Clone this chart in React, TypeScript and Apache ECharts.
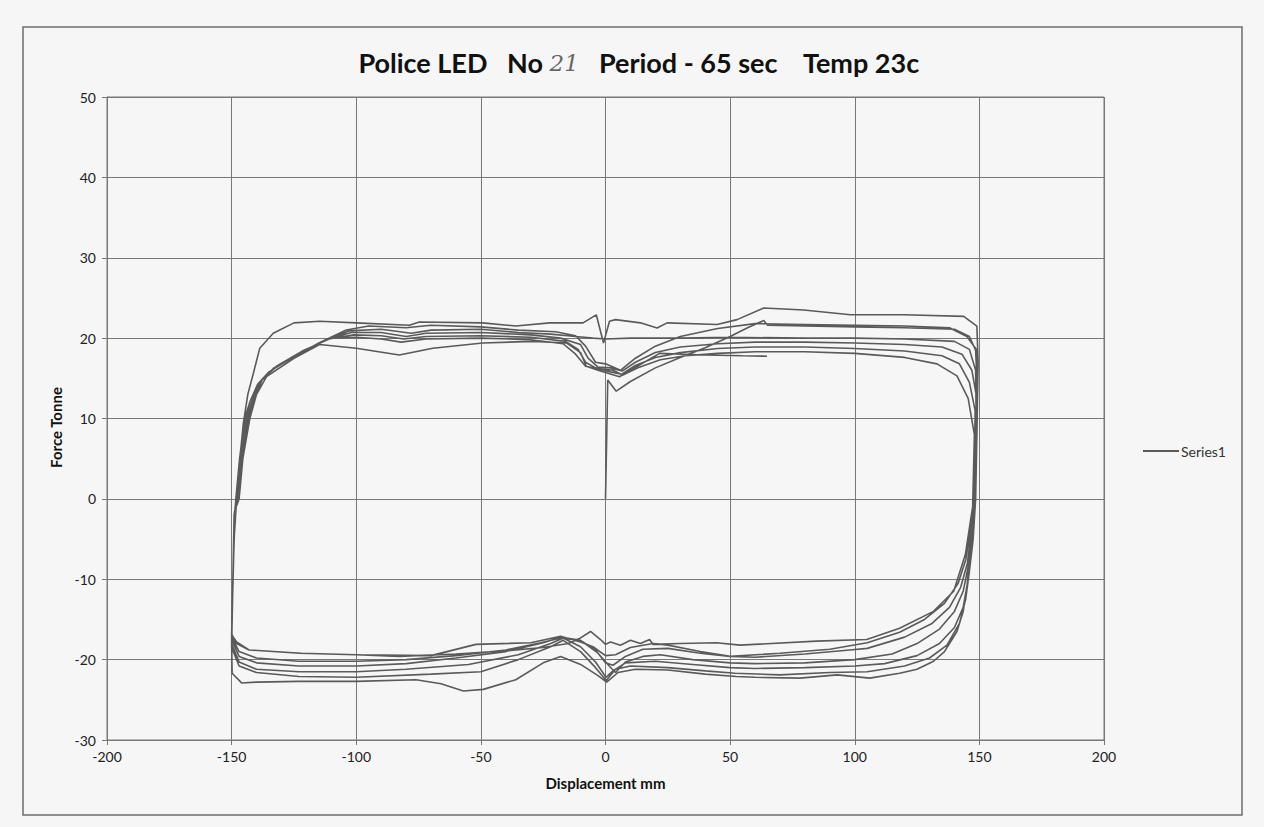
import React, { useEffect, useRef } from "react";
import * as echarts from "echarts";

// Axis definitions
const xTicks = { min: -200, max: 200, step: 50 };
const yTicks = { min: -30, max: 50, step: 10 };

// Data: [displacement mm, force tonne]
const start: number[][] = [
  [0, 0], [0.5, 8], [0.9, 14.8], [4.3, 13.4], [10, 14.6], [20, 16.3], [30, 17.6], [40, 18.8],
  [50, 20.2], [57, 21.3], [63.5, 22.2], [65, 21.6], [80, 21.5], [100, 21.4], [120, 21.3],
  [140, 21.1], [146, 20.2], [148.5, 18.5],
];

const cycle1: number[][] = [
  [149, 15], [148.6, 5], [148, -2], [146.5, -6], [145, -11], [143.5, -14], [141, -16.5], [136, -19],
  [131.6, -20.2], [125, -21.2], [118, -21.7], [106, -22.3], [93, -21.9], [78, -22.3], [60, -22.2],
  [52.5, -22.1], [40, -21.8], [25, -21.3], [12, -21.2], [5, -21.6], [0.5, -22.8], [-3, -22],
  [-10, -20.6], [-18, -19.6], [-25, -20.4], [-36, -22.5], [-49, -23.7], [-57, -23.9], [-66, -23],
  [-76, -22.5], [-100, -22.7], [-123, -22.7], [-140, -22.8], [-146, -22.9], [-149.8, -21.7],
  [-150, -18], [-149.5, -10], [-149, -2], [-148, 0], [-147, 4], [-145.3, 9.4], [-143.5, 13],
  [-141.3, 15.6], [-138.7, 18.75], [-133.3, 20.6], [-125, 21.9], [-114.7, 22.1], [-100, 21.9],
  [-78.7, 21.6], [-74.7, 22.0], [-49.3, 21.9], [-36, 21.5], [-22.4, 21.9], [-9, 21.9], [-3.7, 22.9],
  [-0.8, 19.4], [1.6, 22.1], [4, 22.3], [14, 21.9], [20.7, 21.25], [24.7, 21.9], [44.8, 21.7],
  [52.8, 22.3], [63.5, 23.75], [79.5, 23.5], [98.3, 22.9], [119.7, 22.9], [143.7, 22.7], [149, 21.5],
];

const cycle2: number[][] = [
  [149.5, 17], [149, 8], [148.5, 0], [147.5, -5], [146, -9], [144.5, -12.5], [142, -15.5], [137, -18.2],
  [130, -19.8], [120, -20.8], [105, -21.5], [90, -21.6], [70, -21.9], [52, -21.7], [40, -21.4],
  [25, -21], [10, -20.8], [4, -21.2], [0.3, -22.6], [-4, -21], [-10, -19], [-17, -17.6], [-22, -18.4],
  [-35, -20], [-50, -21.5], [-70, -21.8], [-100, -22.2], [-123, -22.1], [-140, -21.6], [-147, -20.8],
  [-150, -18.5], [-149.6, -12], [-149, -3], [-148.3, 0], [-146.8, 5], [-144.8, 10], [-142.5, 12.2],
  [-139.5, 14.3], [-135, 15.8], [-125, 17.7], [-115, 19.4], [-104, 21], [-95, 21.5], [-80, 21.3],
  [-70, 21.6], [-50, 21.4], [-35, 21.0], [-20, 20.8], [-12, 20.3], [-8, 19], [-4, 17], [0, 16.8],
  [6, 16], [12, 17.5], [20, 19], [30, 20.2], [45, 21.2], [60, 21.8], [80, 21.7], [100, 21.6],
  [120, 21.5], [138, 21.3], [145, 20.2], [149, 18.5],
];

const cycle3: number[][] = [
  [149.3, 14], [148.8, 5], [148, -1], [147, -6], [145.5, -10], [143.5, -13.5], [140, -16], [134, -18],
  [125, -19.5], [112, -20.5], [100, -20.8], [80, -21], [60, -21.1], [50, -21.0], [35, -20.6],
  [20, -20.2], [8, -20.4], [3, -21.4], [0.2, -22.2], [-4, -20.3], [-10, -18.4], [-17, -17.3],
  [-22, -18], [-35, -19.4], [-55, -20.6], [-80, -21.2], [-100, -21.5], [-123, -21.5], [-140, -21.2],
  [-147, -20.3], [-150, -18], [-149.5, -10], [-148.8, -2], [-148, 0], [-146.5, 5], [-144.2, 10],
  [-142, 12], [-139, 14.4], [-134, 16], [-124, 17.9], [-113, 19.6], [-103, 20.9], [-90, 21.1],
  [-78, 20.6], [-70, 21.0], [-50, 21.1], [-35, 20.7], [-22, 20.5], [-12, 20.2], [-5, 20.0], [0, 19.9],
  [10, 20.0], [30, 20.0], [50, 20.1], [80, 20.0], [100, 20.0], [120, 19.9], [140, 19.6], [146, 18.6],
  [148.5, 16],
];

const cycle4: number[][] = [
  [148.8, 8], [148.2, 0], [147.2, -4], [145.8, -8], [143.5, -11.5], [140, -14], [134, -16.2], [125, -18],
  [115, -19.3], [100, -20], [80, -20.4], [60, -20.5], [50, -20.4], [35, -20], [22, -19.4], [15, -19.6],
  [8, -20.3], [4, -21.6], [1.5, -20.8], [-3, -19.2], [-10, -17.6], [-18, -17.2], [-25, -17.9],
  [-40, -19], [-60, -19.8], [-80, -20.5], [-100, -20.8], [-123, -20.8], [-140, -20.4], [-147, -19.6],
  [-150, -17.5], [-149.3, -8], [-148.6, -1], [-147.7, 0], [-146.2, 5], [-143.8, 10], [-141.5, 12.3],
  [-138.5, 14.6], [-133, 16.3], [-123, 18.1], [-112, 19.8], [-102, 20.7], [-90, 20.7], [-80, 20.2],
  [-72, 20.6], [-50, 20.7], [-30, 20.4], [-18, 20], [-10, 19.2], [-7, 17.5], [-3, 16.4], [2, 16.3],
  [6.7, 15.9], [12, 17], [20, 18.2], [30, 18.9], [45, 19.3], [60, 19.5], [80, 19.5], [100, 19.4],
  [120, 19.2], [135, 18.9], [143, 18], [147, 16], [148.7, 13],
];

const cycle5: number[][] = [
  [148.5, 5], [147.8, 0], [146.8, -4], [145.2, -8], [142.5, -11], [138, -13.5], [131, -15.5],
  [120, -17.2], [105, -18.6], [98, -18.8], [80, -19.3], [60, -19.7], [50, -19.6], [38, -19.2],
  [25, -18.6], [15, -18.7], [8, -19.6], [3, -20.7], [0, -20.4], [-4, -18.8], [-10, -17.6], [-18, -17.3],
  [-26, -17.9], [-40, -18.8], [-60, -19.5], [-80, -20.0], [-100, -20.2], [-123, -20.2], [-140, -19.8],
  [-147, -19], [-150, -17.2], [-149.2, -7], [-148.5, -1], [-147.5, 0], [-146, 5], [-143.4, 10],
  [-141, 12.5], [-138, 14.8], [-132, 16.5], [-122, 18.3], [-111, 19.9], [-101, 20.4], [-90, 20.3],
  [-81, 19.9], [-72, 20.2], [-50, 20.3], [-30, 20.1], [-16, 19.6], [-11, 18.6], [-8, 17], [-4, 16.3],
  [2, 15.8], [6.5, 15.5], [12, 16.6], [20, 17.6], [30, 18.2], [45, 18.7], [60, 18.9], [80, 18.9],
  [100, 18.7], [120, 18.4], [135, 17.8], [142, 16.8], [146, 14.5], [148.3, 11],
];

const cycle6: number[][] = [
  [148, 3], [147.3, -1], [146.3, -4], [144.6, -7.5], [141.5, -10.5], [136, -13], [128, -15],
  [118, -16.6], [105, -17.9], [90, -18.7], [70, -19.2], [50, -19.6], [38, -19], [25, -18.2], [19, -18],
  [10, -18.5], [4, -19.4], [0, -19.5], [-5, -18.4], [-10, -17.8], [-18, -17.1], [-30, -17.9],
  [-52, -18.1], [-70, -19.5], [-100, -19.4], [-122, -19.2], [-143, -18.8], [-148, -17.8],
  [-150, -16.9], [-149.2, -6], [-148.4, -1], [-147.3, 0], [-145.8, 5], [-143, 10], [-140.5, 12.7],
  [-137.5, 15], [-131, 16.7], [-121, 18.5], [-110, 20], [-100, 20.1], [-90, 19.9], [-82, 19.5],
  [-72, 19.9], [-50, 20.0], [-30, 19.8], [-17, 19.3], [-12, 18], [-8, 16.5], [-3, 16.2], [3, 16],
  [7, 15.4], [13, 16.3], [22, 17.3], [32, 17.8], [45, 18.1], [60, 18.3], [80, 18.3], [100, 18.1],
  [120, 17.6], [133, 16.8], [141, 15.3], [145.5, 12.5], [148, 8],
];

const cycle7: number[][] = [
  [147.3, -1], [146.4, -2.8], [144.4, -6.9], [139.7, -11.5], [131.6, -14], [118, -16.1],
  [104.8, -17.5], [84.7, -17.7], [54, -18.2], [44.5, -17.9], [30, -18], [19, -18.1], [17.7, -17.5],
  [14, -18], [10, -17.6], [6, -18.2], [2, -17.8], [0, -18.1], [-2, -17.5], [-6, -16.5], [-10, -17.3],
  [-15, -18], [-25, -18.5], [-40, -18.9], [-60, -19.3], [-82.7, -19.6], [-100, -19.4],
  [-122.7, -19.2], [-143, -18.8], [-148, -18], [-150, -16.8], [-149, -5], [-148.2, -1], [-147, 0],
  [-145.5, 5], [-142.7, 10], [-140, 13], [-136, 15.2], [-125, 17.5], [-114.7, 19.2], [-100, 18.75],
  [-82.7, 17.9], [-69.3, 18.75], [-49.3, 19.4], [-29, 19.6], [-15.7, 19.4], [-10, 18.2], [-7.7, 16.5],
  [-3, 16], [5.6, 15.2], [10, 16], [21.7, 18.1], [40, 17.9], [55, 17.8], [64.8, 17.75],
];

const seriesName = "Series1";
const titleParts = { before: "Police LED   No ", handwritten: "21", after: "   Period - 65 sec    Temp 23c" };
const xAxisName = "Displacement mm";
const yAxisName = "Force Tonne";

export default function App() {
  const ref = useRef<HTMLDivElement>(null);
  useEffect(() => {
    document.body.style.margin = "0";
    if (!ref.current) return;
    const chart = echarts.init(ref.current, undefined, { renderer: "svg" });
    const data = [...start, ...cycle1, ...cycle2, ...cycle3, ...cycle4, ...cycle5, ...cycle6, ...cycle7];
    const font = "Lato, 'Open Sans', sans-serif";
    chart.setOption({
      animation: false,
      backgroundColor: "#f6f6f6",
      title: {
        text: `${titleParts.before}{hw|${titleParts.handwritten}}${titleParts.after}`,
        left: 634,
        top: 44,
        textAlign: "center",
        textStyle: {
          fontFamily: font,
          fontWeight: "bold",
          fontSize: 27,
          color: "#111",
          rich: {
            hw: {
              fontFamily: "'DejaVu Serif', serif",
              fontStyle: "italic",
              fontWeight: "normal",
              fontSize: 23,
              color: "#666",
            },
          },
        },
      },
      legend: {
        data: [seriesName],
        left: 1138,
        top: 439,
        icon: "rect",
        itemWidth: 36,
        itemHeight: 2,
        itemGap: 4,
        textStyle: { fontFamily: font, fontSize: 14, color: "#333", padding: [0, 0, 0, -3] },
      },
      grid: {
        left: 107,
        top: 97,
        right: 160,
        bottom: 87,
        show: true,
        borderColor: "#787878",
        borderWidth: 1,
        backgroundColor: "transparent",
      },
      xAxis: {
        type: "value",
        min: xTicks.min,
        max: xTicks.max,
        interval: xTicks.step,
        name: xAxisName,
        nameLocation: "middle",
        nameGap: 35,
        nameTextStyle: { fontFamily: font, fontWeight: "bold", fontSize: 15, color: "#111" },
        axisLine: { show: true, onZero: false, lineStyle: { color: "#787878" } },
        axisTick: { show: true, length: 5, inside: false, lineStyle: { color: "#787878" } },
        axisLabel: { fontFamily: font, fontSize: 14, color: "#222", margin: 9 },
        splitLine: { show: true, lineStyle: { color: "#787878", width: 1 } },
      },
      yAxis: {
        type: "value",
        min: yTicks.min,
        max: yTicks.max,
        interval: yTicks.step,
        name: yAxisName,
        nameLocation: "middle",
        nameGap: 43,
        nameRotate: 90,
        nameTextStyle: {
          fontFamily: font,
          fontWeight: "bold",
          fontSize: 15,
          color: "#111",
          padding: [0, 18, 0, 0],
        },
        axisLine: { show: true, onZero: false, lineStyle: { color: "#787878" } },
        axisTick: { show: true, length: 5, inside: false, lineStyle: { color: "#787878" } },
        axisLabel: { fontFamily: font, fontSize: 14, color: "#222", margin: 11 },
        splitLine: { show: true, lineStyle: { color: "#787878", width: 1 } },
      },
      graphic: [
        {
          type: "rect",
          shape: { x: 23, y: 27, width: 1219, height: 788 },
          style: { fill: "none", stroke: "#6e6e6e", lineWidth: 1.5 },
          silent: true,
          z: -1,
        },
      ],
      series: [
        {
          name: seriesName,
          type: "line",
          data,
          showSymbol: false,
          symbol: "none",
          smooth: false,
          lineStyle: { color: "#5a5a5a", width: 1.6 },
          itemStyle: { color: "#5a5a5a" },
        },
      ],
    });
    return () => chart.dispose();
  }, []);
  return <div ref={ref} style={{ width: 1264, height: 827 }} />;
}
